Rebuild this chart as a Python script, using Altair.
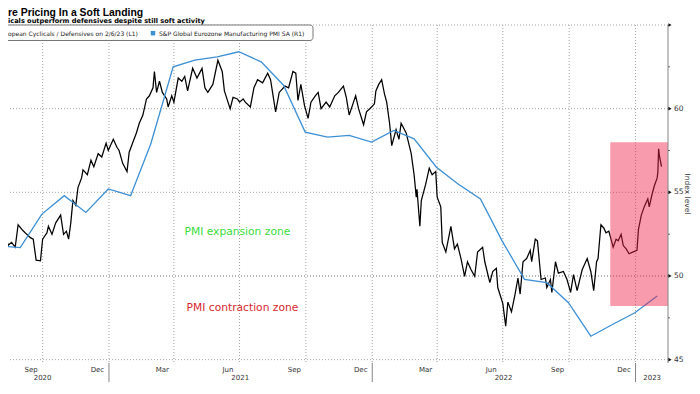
import altair as alt
import pandas as pd

TITLE = "re Pricing In a Soft Landing"
SUBTITLE = "icals outperform defensives despite still soft activity"
LEGEND_RATIO = "opean Cyclicals / Defensives on 2/6/23 (L1)"
LEGEND_PMI = "S&P Global Eurozone Manufacturing PMI SA (R1)"
AXIS_TITLE = "Index level"

# Cyclicals / Defensives ratio (L1) in right-axis units
ratio_dates = [
    "2020-08-03", "2020-08-07", "2020-08-12", "2020-08-14", "2020-08-19", "2020-08-24", "2020-08-28",
    "2020-09-04", "2020-09-09", "2020-09-14", "2020-09-18", "2020-09-22", "2020-09-28",
    "2020-10-01", "2020-10-07", "2020-10-09", "2020-10-14", "2020-10-19", "2020-10-26", "2020-10-30",
    "2020-11-03", "2020-11-06", "2020-11-09", "2020-11-12", "2020-11-16", "2020-11-19", "2020-11-24", "2020-11-26",
    "2020-12-02", "2020-12-07", "2020-12-11", "2020-12-17", "2020-12-22", "2020-12-28", "2020-12-31",
    "2021-01-07", "2021-01-12", "2021-01-15", "2021-01-20", "2021-01-26", "2021-01-29",
    "2021-02-03", "2021-02-08", "2021-02-12", "2021-02-17", "2021-02-22", "2021-02-26",
    "2021-03-03", "2021-03-05", "2021-03-08", "2021-03-12", "2021-03-16", "2021-03-22", "2021-03-24", "2021-03-29",
    "2021-04-01", "2021-04-07", "2021-04-12", "2021-04-16", "2021-04-20", "2021-04-27",
    "2021-05-03", "2021-05-10", "2021-05-14", "2021-05-18", "2021-05-25",
    "2021-06-01", "2021-06-07", "2021-06-10", "2021-06-15", "2021-06-18", "2021-06-22", "2021-06-28",
    "2021-07-01", "2021-07-06", "2021-07-09", "2021-07-16", "2021-07-21", "2021-07-26",
    "2021-08-02", "2021-08-09", "2021-08-13", "2021-08-20", "2021-08-25",
    "2021-09-02", "2021-09-07", "2021-09-13", "2021-09-17", "2021-09-20", "2021-09-24", "2021-09-29",
    "2021-10-04", "2021-10-08", "2021-10-14", "2021-10-18", "2021-10-22", "2021-10-29",
    "2021-11-03", "2021-11-10", "2021-11-15", "2021-11-22", "2021-11-26", "2021-11-30",
    "2021-12-06", "2021-12-09", "2021-12-13", "2021-12-20", "2021-12-24", "2021-12-31",
    "2022-01-04", "2022-01-06", "2022-01-10", "2022-01-14", "2022-01-18", "2022-01-21", "2022-01-25", "2022-01-28",
    "2022-02-03", "2022-02-07", "2022-02-10", "2022-02-17", "2022-02-24", "2022-02-28",
    "2022-03-03", "2022-03-04", "2022-03-08", "2022-03-10", "2022-03-16", "2022-03-21", "2022-03-25", "2022-03-30",
    "2022-04-01", "2022-04-06", "2022-04-08", "2022-04-13", "2022-04-20", "2022-04-25", "2022-04-29",
    "2022-05-04", "2022-05-09", "2022-05-13", "2022-05-18", "2022-05-23", "2022-05-27",
    "2022-06-03", "2022-06-06", "2022-06-13", "2022-06-17", "2022-06-22", "2022-06-24",
    "2022-07-01", "2022-07-05", "2022-07-08", "2022-07-13", "2022-07-18", "2022-07-22", "2022-07-25", "2022-07-29",
    "2022-08-03", "2022-08-08", "2022-08-10", "2022-08-15", "2022-08-18", "2022-08-23", "2022-08-29", "2022-08-31",
    "2022-09-05", "2022-09-07", "2022-09-12", "2022-09-16", "2022-09-23", "2022-09-28",
    "2022-10-03", "2022-10-07", "2022-10-12", "2022-10-19", "2022-10-26", "2022-10-31",
    "2022-11-04", "2022-11-08", "2022-11-10", "2022-11-14", "2022-11-18", "2022-11-21", "2022-11-25",
    "2022-12-01", "2022-12-05", "2022-12-08", "2022-12-12", "2022-12-15", "2022-12-19", "2022-12-23", "2022-12-28",
    "2023-01-03", "2023-01-05", "2023-01-09", "2023-01-13", "2023-01-18", "2023-01-20", "2023-01-24", "2023-01-27",
    "2023-01-31", "2023-02-01", "2023-02-02", "2023-02-03", "2023-02-06",
]
ratio_values = [
    50.37, 51.72, 52.29, 51.83, 52.01, 51.72, 53.06,
    52.70, 52.49, 52.29, 52.20, 50.95, 50.91,
    52.20, 52.58, 52.97, 52.49, 53.16, 53.64, 52.49,
    52.68, 52.20, 53.16, 54.51, 54.22, 55.28, 55.86, 56.34,
    56.05, 56.92, 56.53, 57.31, 57.11, 57.94, 57.50,
    58.17, 57.69, 57.50, 56.73, 56.24, 57.40,
    57.98, 58.55, 59.13, 59.62, 60.58, 60.77,
    61.25, 62.22, 60.97, 61.64, 60.97, 60.58, 60.10, 60.77,
    60.39, 61.83, 61.64, 61.93, 61.06, 62.41,
    61.83, 62.41, 61.25, 60.97, 61.45,
    62.89, 62.22, 61.06, 60.39, 60.00, 60.68, 60.58,
    60.39, 60.58, 60.39, 60.10, 61.25, 61.73,
    61.54, 62.12, 61.73, 59.81, 60.97,
    61.35, 61.25, 62.22, 62.12, 60.49, 61.45, 60.20,
    59.42, 60.39, 60.77, 60.97, 60.00, 60.39,
    60.10, 60.77, 60.97, 61.35, 60.68, 59.62,
    60.39, 60.77, 60.00, 59.04, 59.81, 60.10,
    60.29, 61.06, 61.45, 61.73, 60.87, 60.39, 59.13, 57.79,
    58.75, 58.17, 59.13, 58.55, 57.31, 56.05,
    54.71, 55.18, 52.97, 54.51, 55.47, 56.44, 56.05, 56.24,
    54.71, 54.13, 52.01, 51.43, 52.97, 51.62, 51.91,
    51.04, 49.98, 50.85, 50.37, 49.98, 51.43,
    51.72, 50.85, 49.60, 50.27, 50.46, 49.31,
    48.35, 47.00, 48.44, 47.86, 48.92, 49.88, 48.92, 50.85,
    51.04, 51.53, 50.85, 52.20, 52.10, 49.79, 49.88, 49.31,
    49.79, 49.02, 50.85, 50.17, 50.27, 49.79,
    49.02, 50.08, 49.12, 50.37, 51.04, 50.27,
    49.12, 50.85, 51.04, 53.06, 52.87, 52.58, 52.68,
    51.72, 52.20, 52.10, 52.49, 51.82, 51.62, 51.33, 51.43,
    51.53, 52.77, 53.64, 54.13, 54.61, 54.13, 54.90, 55.38,
    55.86, 56.24, 57.60, 57.21, 56.53,
]

# S&P Global Eurozone Manufacturing PMI (R1), monthly, plotted at month end
pmi_dates = [
    "2020-07-31", "2020-08-31", "2020-09-30", "2020-10-31", "2020-11-30", "2020-12-31",
    "2021-01-31", "2021-02-28", "2021-03-31", "2021-04-30", "2021-05-31", "2021-06-30",
    "2021-07-31", "2021-08-31", "2021-09-30", "2021-10-31", "2021-11-30", "2021-12-31",
    "2022-01-31", "2022-02-28", "2022-03-31", "2022-04-30", "2022-05-31", "2022-06-30",
    "2022-07-31", "2022-08-31", "2022-09-30", "2022-10-31", "2022-11-30", "2022-12-31",
    "2023-01-31",
]
pmi_values = [
    51.8, 51.7, 53.7, 54.8, 53.8, 55.2,
    54.8, 57.9, 62.5, 62.9, 63.1, 63.4,
    62.8, 61.4, 58.6, 58.3, 58.4, 58.0,
    58.7, 58.2, 56.5, 55.5, 54.6, 52.1,
    49.8, 49.6, 48.4, 46.4, 47.1, 47.8,
    48.8,
]

zone_labels = ["PMI expansion zone", "PMI contraction zone"]
zone_dates = ["2021-06-28", "2021-07-05"]
zone_levels = [52.6, 48.1]
zone_colors = ["#3bdc3b", "#d8262e"]

highlight_start = ["2022-11-27"]
highlight_end = ["2023-02-15"]
highlight_low = [48.2]
highlight_high = [58.0]

month_labels = ["Sep", "Dec", "Mar", "Jun", "Sep", "Dec", "Mar", "Jun", "Sep", "Dec"]
month_label_dates = ["2020-09-15", "2020-12-16", "2021-03-16", "2021-06-15", "2021-09-15",
                     "2021-12-16", "2022-03-16", "2022-06-15", "2022-09-15", "2022-12-16"]
year_labels = ["2020", "2021", "2022", "2023"]
year_label_dates = ["2020-10-01", "2021-07-02", "2022-07-02", "2023-01-24"]
year_starts = ["2021-01-01", "2022-01-01", "2023-01-01"]
quarter_starts = ["2020-10-01", "2021-01-01", "2021-04-01", "2021-07-01", "2021-10-01",
                  "2022-01-01", "2022-04-01", "2022-07-01", "2022-10-01", "2023-01-01"]
y_grid = [45, 55, 60, 65]
y_zero_line = [50]
y_major = [45, 50, 55, 60, 65]
y_minor = [47.5, 52.5, 57.5, 62.5]
y_labels = [45, 50, 55, 60]
x_start, x_end = "2020-08-14", "2023-02-15"
y_min, y_max = 44.8, 65

FONT = "DejaVu Sans"
BLUE = "#3d8fd6"
GRID = "#a4a4a4"
AXIS = "#858585"
W, H = 660, 338


def dt(s):
    y, m, d = map(int, s.split("-"))
    return alt.DateTime(year=y, month=m, date=d, utc=True)


x_scale = alt.Scale(domain=[dt(x_start), dt(x_end)])
y_scale = alt.Scale(domain=[y_min, y_max], nice=False, zero=False)

month_starts = [d.strftime("%Y-%m-%d") for d in pd.date_range("2020-09-01", "2023-02-01", freq="MS")]
x_axis = alt.Axis(values=[dt(s) for s in month_starts], labels=False, grid=False, ticks=True,
                  tickSize=3, tickColor=AXIS, domainColor=AXIS, title=None)

ratio_df = pd.DataFrame({"date": ratio_dates, "value": ratio_values})
pmi_df = pd.DataFrame({"date": pmi_dates, "value": pmi_values})
zone_df = pd.DataFrame({"date": zone_dates, "level": zone_levels, "label": zone_labels, "color": zone_colors})
hl_df = pd.DataFrame({"start": highlight_start, "end": highlight_end, "low": highlight_low, "high": highlight_high})
one = pd.DataFrame({"k": [0]})

X = lambda f: alt.X(f, scale=x_scale, axis=None)
Y = lambda f: alt.Y(f, scale=y_scale, axis=None)

vgrid = alt.Chart(pd.DataFrame({"date": quarter_starts})).mark_rule(
    strokeDash=[1, 2], color=GRID, strokeWidth=1
).encode(x=alt.X("date:T", scale=x_scale, axis=x_axis))

hgrid = alt.Chart(pd.DataFrame({"v": y_grid})).mark_rule(
    strokeDash=[1, 2], color=GRID, strokeWidth=1
).encode(y=Y("v:Q"))

rule50 = alt.Chart(pd.DataFrame({"v": y_zero_line})).mark_rule(
    strokeDash=[1, 2], color="#6e6e6e", strokeWidth=1
).encode(y=Y("v:Q"))

# right-hand value axis (R1)
y_domain = alt.Chart(one).mark_rule(color=AXIS, strokeWidth=1).encode(
    x=alt.value(W), y=alt.value(0), y2=alt.value(H)
)
y_major_ticks = alt.Chart(pd.DataFrame({"v": y_major})).mark_point(
    shape="triangle-right", filled=True, color="#111", size=14, opacity=1
).encode(x=alt.value(W + 2), y=Y("v:Q"))
y_minor_ticks = alt.Chart(pd.DataFrame({"v": y_minor})).mark_rule(color="#666", strokeWidth=1).encode(
    x=alt.value(W), x2=alt.value(W + 2), y=Y("v:Q")
)
y_tick_labels = alt.Chart(pd.DataFrame({"v": y_labels})).mark_text(
    font=FONT, fontSize=7.5, align="left", baseline="middle", color="#333"
).encode(x=alt.value(W + 6), y=Y("v:Q"), text="v:Q")
y_title = alt.Chart(one).mark_text(
    font=FONT, fontSize=7.5, angle=90, align="center", baseline="middle", color="#333"
).encode(x=alt.value(W + 19), y=alt.value(H / 2), text=alt.value(AXIS_TITLE))

ratio_line = alt.Chart(ratio_df).mark_line(color="#000", strokeWidth=1.25, clip=True).encode(
    x=X("date:T"), y=Y("value:Q")
)
pmi_line = alt.Chart(pmi_df).mark_line(color=BLUE, strokeWidth=1.3, clip=True).encode(
    x=X("date:T"), y=Y("value:Q")
)
hl = alt.Chart(hl_df).mark_rect(color="#f0224a", opacity=0.45).encode(
    x=X("start:T"), x2="end:T", y=Y("low:Q"), y2="high:Q"
)
zones = alt.Chart(zone_df).mark_text(font=FONT, fontSize=10.7, align="center", baseline="middle").encode(
    x=X("date:T"), y=Y("level:Q"), text="label:N", color=alt.Color("color:N", scale=None)
)

legend_box = alt.Chart(one).mark_rect(fill="white", stroke="#777", strokeWidth=1, cornerRadius=3).encode(
    x=alt.value(-3), x2=alt.value(305), y=alt.value(0), y2=alt.value(15.5)
)
legend_t1 = alt.Chart(one).mark_text(font=FONT, fontSize=6.0, align="left", baseline="alphabetic", color="#222").encode(
    x=alt.value(0), y=alt.value(10.8), text=alt.value(LEGEND_RATIO)
)
legend_sq = alt.Chart(one).mark_square(color=BLUE, size=20, opacity=1).encode(
    x=alt.value(145), y=alt.value(8.2)
)
legend_t2 = alt.Chart(one).mark_text(font=FONT, fontSize=6.0, align="left", baseline="alphabetic", color="#222").encode(
    x=alt.value(151), y=alt.value(10.8), text=alt.value(LEGEND_PMI)
)
title = alt.Chart(one).mark_text(font="Liberation Sans", fontSize=10.4, fontWeight="bold", align="left",
                                 baseline="alphabetic", color="#000").encode(
    x=alt.value(0), y=alt.value(-9), text=alt.value(TITLE)
)
subtitle = alt.Chart(one).mark_text(font=FONT, fontSize=6.6, fontWeight="bold", align="left",
                                    baseline="alphabetic", color="#000").encode(
    x=alt.value(0), y=alt.value(-2), text=alt.value(SUBTITLE)
)
months = alt.Chart(pd.DataFrame({"date": month_label_dates, "label": month_labels})).mark_text(
    font=FONT, fontSize=7, align="center", baseline="alphabetic", color="#333"
).encode(x=X("date:T"), y=alt.value(H + 9), text="label:N")
years = alt.Chart(pd.DataFrame({"date": year_label_dates, "label": year_labels})).mark_text(
    font=FONT, fontSize=7, align="center", baseline="alphabetic", color="#333"
).encode(x=X("date:T"), y=alt.value(H + 17), text="label:N")
year_seps = alt.Chart(pd.DataFrame({"date": year_starts})).mark_rule(color=AXIS, strokeWidth=1).encode(
    x=X("date:T"), y=alt.value(H), y2=alt.value(H + 19)
)

chart = alt.layer(
    vgrid, hgrid, rule50, ratio_line, pmi_line, hl, zones,
    y_domain, y_minor_ticks, y_major_ticks, y_tick_labels, y_title,
    legend_box, legend_t1, legend_sq, legend_t2, title, subtitle,
    months, years, year_seps,
).properties(
    width=W, height=H,
    padding={"left": 0, "top": 17, "right": 24, "bottom": 19},
    autosize=alt.AutoSizeParams(type="none"),
).configure_view(stroke=None)

chart.save("out.html", embed_options={"renderer": "svg", "actions": False})
